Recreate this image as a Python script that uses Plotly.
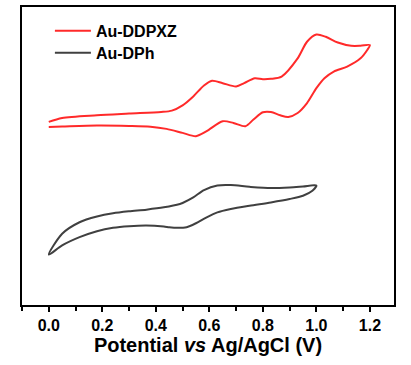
import plotly.graph_objects as go

# Au-DDPXZ cyclic voltammogram (potential V, current arb. units)
ddpxz_v = [0.00, 0.05, 0.18, 0.30, 0.42, 0.46, 0.50, 0.54, 0.58, 0.61, 0.65, 0.70, 0.73, 0.77, 0.80, 0.83,
           0.87, 0.93, 0.965, 1.00, 1.035, 1.08, 1.13, 1.165, 1.20,
           1.19, 1.165, 1.115, 1.065, 1.03, 1.00, 0.965, 0.93, 0.895, 0.865, 0.83, 0.80, 0.765, 0.735,
           0.69, 0.65, 0.59, 0.55, 0.50, 0.44, 0.38, 0.30, 0.18, 0.05, 0.00]
ddpxz_i = [184.3, 188.3, 191.0, 192.7, 194.3, 195.7, 201.0, 210.0, 221.0, 225.7, 223.3, 220.0, 223.3, 228.3, 227.3, 227.7,
           230.0, 248.3, 265.0, 272.3, 270.0, 264.3, 261.0, 261.0, 261.7,
           256.7, 248.3, 240.0, 235.0, 228.3, 218.3, 203.3, 193.3, 189.3, 191.0, 194.3, 194.0, 186.7, 180.0,
           183.3, 185.0, 175.0, 170.0, 173.3, 177.3, 179.5, 180.3, 180.7, 179.7, 179.3]

# Au-DPh cyclic voltammogram
dph_v = [0.00, 0.05, 0.115, 0.18, 0.24, 0.30, 0.365, 0.43, 0.49, 0.50, 0.54, 0.58, 0.63, 0.68, 0.75, 0.83, 0.90, 0.95, 1.00,
         0.985, 0.95, 0.90, 0.83, 0.75, 0.68, 0.63, 0.59, 0.55, 0.515, 0.48, 0.45, 0.43, 0.365, 0.30, 0.24, 0.18, 0.115, 0.05, 0.00]
dph_i = [50.7, 71.7, 83.3, 89.0, 92.3, 94.3, 96.0, 98.3, 101.7, 102.7, 108.3, 115.7, 120.3, 120.7, 119.0, 117.7, 118.3, 119.3, 120.3,
         115.0, 110.0, 106.7, 103.3, 100.0, 96.7, 93.3, 88.3, 82.3, 78.3, 77.7, 78.3, 79.0, 80.0, 79.3, 77.7, 74.3, 68.3, 60.0, 50.7]

x_ticks = [0.0, 0.2, 0.4, 0.6, 0.8, 1.0, 1.2]
x_tick_labels = ["0.0", "0.2", "0.4", "0.6", "0.8", "1.0", "1.2"]

FONT = "Arial, Liberation Sans, sans-serif"
LEG_FONT = dict(family=FONT, size=16, color="black", weight="bold")

fig = go.Figure()
fig.add_trace(go.Scatter(x=ddpxz_v, y=ddpxz_i, mode="lines", name="Au-DDPXZ", legend="legend",
                         line=dict(color="#ff2a2a", width=2, shape="spline", smoothing=0.8)))
fig.add_trace(go.Scatter(x=dph_v, y=dph_i, mode="lines", name="Au-DPh", legend="legend2",
                         line=dict(color="#404040", width=2, shape="spline", smoothing=0.8)))

fig.update_layout(
    width=411, height=365,
    margin=dict(l=22, r=17, t=5, b=60),
    paper_bgcolor="white", plot_bgcolor="white",
    font=dict(family=FONT, color="black"),
    showlegend=True,
    legend=dict(x=0.075, y=0.977, xanchor="left", yanchor="top",
                bgcolor="rgba(0,0,0,0)", borderwidth=0, font=LEG_FONT, itemwidth=36),
    legend2=dict(x=0.075, y=0.903, xanchor="left", yanchor="top",
                 bgcolor="rgba(0,0,0,0)", borderwidth=0, font=LEG_FONT, itemwidth=36),
    xaxis=dict(range=[-0.1, 1.29], tickmode="array", tickvals=x_ticks, ticktext=x_tick_labels,
               showgrid=False, zeroline=False, showline=True, linecolor="black", linewidth=2, mirror=True,
               ticks="outside", ticklen=5, tickwidth=2, tickcolor="black",
               minor=dict(dtick=0.1, tick0=0, ticks="outside", ticklen=4, tickwidth=2, tickcolor="black"),
               tickfont=dict(family=FONT, size=16, color="black", weight="bold"),
               title=dict(text="Potential <i>vs</i> Ag/AgCl (V)", standoff=3,
                          font=dict(family=FONT, size=20, color="black", weight="bold"))),
    yaxis=dict(range=[0, 300], showticklabels=False, ticks="", showgrid=False, zeroline=False,
               showline=True, linecolor="black", linewidth=2, mirror=True),
)

fig.write_html("out.html", config={"displayModeBar": False},
               post_script="document.body.style.margin='0';")
